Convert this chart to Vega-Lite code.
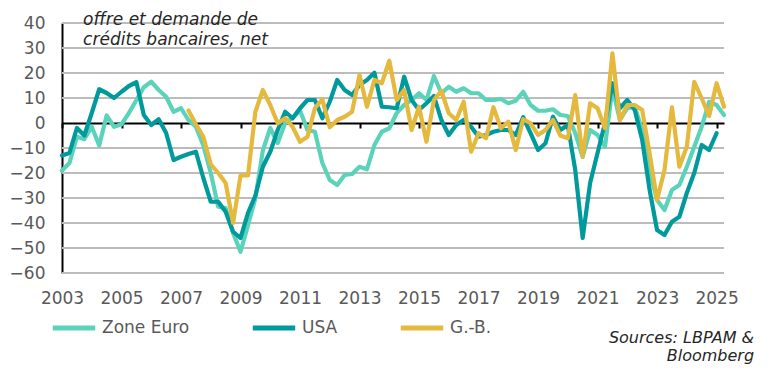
{
  "$schema": "https://vega.github.io/schema/vega-lite/v6.json",
  "width": 662,
  "height": 250,
  "autosize": {"type": "none"},
  "padding": {"left": 62, "top": 23, "right": 46, "bottom": 98},
  "background": "white",
  "config": {"view": {"stroke": null}, "font": "DejaVu Sans"},
  "encoding": {
    "x": {
      "field": "t", "type": "quantitative",
      "scale": {"domain": [2003, 2025.25], "nice": false, "zero": false},
      "axis": {
        "values": [2003, 2005, 2007, 2009, 2011, 2013, 2015, 2017, 2019, 2021, 2023, 2025],
        "format": "d", "title": null, "grid": false, "offset": -150,
        "domainColor": "black", "domainWidth": 2,
        "tickColor": "black", "tickWidth": 2, "tickSize": 5,
        "labelPadding": 162, "labelFontSize": 17, "labelColor": "#595959",
        "labelFont": "DejaVu Sans", "labelFlush": false, "labelOverlap": false
      }
    },
    "y": {
      "field": "v", "type": "quantitative",
      "scale": {"domain": [-60, 40], "nice": false},
      "axis": {
        "values": [-60, -50, -40, -30, -20, -10, 0, 10, 20, 30, 40],
        "title": null, "ticks": false, "grid": false,
        "domainColor": "black", "domainWidth": 2,
        "labelPadding": 17, "labelFontSize": 17, "labelColor": "#595959", "labelFont": "DejaVu Sans",
        "labelOverlap": false
      }
    }
  },
  "layer": [
    {
      "data": {"values": [
        {"v": -60, "t": 2003, "t2": 2025.25}, {"v": -50, "t": 2003, "t2": 2025.25},
        {"v": -40, "t": 2003, "t2": 2025.25}, {"v": -30, "t": 2003, "t2": 2025.25},
        {"v": -20, "t": 2003, "t2": 2025.25}, {"v": -10, "t": 2003, "t2": 2025.25},
        {"v": 10, "t": 2003, "t2": 2025.25}, {"v": 20, "t": 2003, "t2": 2025.25},
        {"v": 30, "t": 2003, "t2": 2025.25}, {"v": 40, "t": 2003, "t2": 2025.25}
      ]},
      "mark": {"type": "rule", "color": "#bcbcbc", "stroke": "#bcbcbc", "strokeWidth": 2, "opacity": 1, "strokeOpacity": 1},
      "encoding": {"x2": {"field": "t2"}}
    },
    {
      "data": {"values": [
        {"t":2003.00,"ze":-19,"us":-13},
        {"t":2003.25,"ze":-16,"us":-12},
        {"t":2003.50,"ze":-5.5,"us":-2},
        {"t":2003.75,"ze":-6.5,"us":-5},
        {"t":2004.00,"ze":-1.5,"us":4},
        {"t":2004.25,"ze":-9,"us":13.5},
        {"t":2004.50,"ze":3,"us":12},
        {"t":2004.75,"ze":-1.5,"us":10},
        {"t":2005.00,"ze":-0.5,"us":12.5},
        {"t":2005.25,"ze":4,"us":14.8},
        {"t":2005.50,"ze":9.2,"us":16.3},
        {"t":2005.75,"ze":14.3,"us":3.2},
        {"t":2006.00,"ze":16.5,"us":-0.8},
        {"t":2006.25,"ze":13.2,"us":1.5},
        {"t":2006.50,"ze":10.5,"us":-4},
        {"t":2006.75,"ze":4.5,"us":-14.8},
        {"t":2007.00,"ze":5.9,"us":-13.5},
        {"t":2007.25,"ze":1.2,"us":-12.4,"gb":5},
        {"t":2007.50,"ze":-1.5,"us":-11.5,"gb":-0.5},
        {"t":2007.75,"ze":-9,"us":-22,"gb":-5.5},
        {"t":2008.00,"ze":-20,"us":-31.5,"gb":-16.5},
        {"t":2008.25,"ze":-33.5,"us":-31.5,"gb":-20},
        {"t":2008.50,"ze":-34,"us":-35.5,"gb":-24},
        {"t":2008.75,"ze":-44,"us":-43.5,"gb":-40},
        {"t":2009.00,"ze":-51.5,"us":-46,"gb":-21},
        {"t":2009.25,"ze":-41,"us":-36,"gb":-21},
        {"t":2009.50,"ze":-30,"us":-29,"gb":4.5},
        {"t":2009.75,"ze":-11,"us":-17.5,"gb":13.2},
        {"t":2010.00,"ze":-2,"us":-11.5,"gb":7.2},
        {"t":2010.25,"ze":-8,"us":-2.8,"gb":-0.1},
        {"t":2010.50,"ze":0,"us":4.5,"gb":1.9},
        {"t":2010.75,"ze":2,"us":1.9,"gb":-1.5},
        {"t":2011.00,"ze":5,"us":5.9,"gb":-7.5},
        {"t":2011.25,"ze":-2.8,"us":9.2,"gb":-5.5},
        {"t":2011.50,"ze":-3.5,"us":9.2,"gb":5.9},
        {"t":2011.75,"ze":-16,"us":1.9,"gb":9.5},
        {"t":2012.00,"ze":-22.8,"us":8.5,"gb":-1.7},
        {"t":2012.25,"ze":-24.8,"us":17.2,"gb":1.2},
        {"t":2012.50,"ze":-20.8,"us":13.2,"gb":2.5},
        {"t":2012.75,"ze":-20.4,"us":11.2,"gb":4.5},
        {"t":2013.00,"ze":-17.5,"us":15.2,"gb":19.2},
        {"t":2013.25,"ze":-18.5,"us":17.2,"gb":6.5},
        {"t":2013.50,"ze":-8.8,"us":20.1,"gb":17.2},
        {"t":2013.75,"ze":-3.5,"us":6.5,"gb":15.9},
        {"t":2014.00,"ze":-2.1,"us":6.3,"gb":24.9},
        {"t":2014.25,"ze":4,"us":5.9,"gb":9.2},
        {"t":2014.50,"ze":7.2,"us":18.5,"gb":13.2},
        {"t":2014.75,"ze":9.2,"us":9.2,"gb":-2.8},
        {"t":2015.00,"ze":11.9,"us":5.2,"gb":6.5},
        {"t":2015.25,"ze":9.2,"us":7.9,"gb":-7.5},
        {"t":2015.50,"ze":18.8,"us":10.8,"gb":9.2},
        {"t":2015.75,"ze":11.9,"us":1.2,"gb":12.9},
        {"t":2016.00,"ze":14.5,"us":-4.8,"gb":3.9},
        {"t":2016.25,"ze":12.5,"us":-0.8,"gb":1.2},
        {"t":2016.50,"ze":13.9,"us":1.2,"gb":8.5},
        {"t":2016.75,"ze":11.9,"us":-1.5,"gb":-11.5},
        {"t":2017.00,"ze":11.9,"us":-5.5,"gb":-4.1},
        {"t":2017.25,"ze":9.2,"us":-4.8,"gb":-6.1},
        {"t":2017.50,"ze":9.2,"us":-3.5,"gb":6.3},
        {"t":2017.75,"ze":9.6,"us":-2.8,"gb":-2.1},
        {"t":2018.00,"ze":7.9,"us":-2.8,"gb":0.5},
        {"t":2018.25,"ze":8.9,"us":-4.8,"gb":-10.8},
        {"t":2018.50,"ze":12.5,"us":2.3,"gb":1.5},
        {"t":2018.75,"ze":7.2,"us":-4.1,"gb":-0.1},
        {"t":2019.00,"ze":4.9,"us":-10.8,"gb":-4.8},
        {"t":2019.25,"ze":4.9,"us":-8.1,"gb":-2.8},
        {"t":2019.50,"ze":5.5,"us":2.5,"gb":1.2},
        {"t":2019.75,"ze":3.2,"us":-2.8,"gb":-5},
        {"t":2020.00,"ze":2.8,"us":-0.8,"gb":-6.1},
        {"t":2020.25,"ze":-4,"us":-18.8,"gb":11.2},
        {"t":2020.50,"ze":-13.5,"us":-46,"gb":-13.5},
        {"t":2020.75,"ze":-2.8,"us":-24,"gb":7.9},
        {"t":2021.00,"ze":-4.8,"us":-12,"gb":5.9},
        {"t":2021.25,"ze":-9.5,"us":0,"gb":-2.1},
        {"t":2021.50,"ze":14,"us":15.9,"gb":27.9},
        {"t":2021.75,"ze":1.2,"us":5.9,"gb":1.2},
        {"t":2022.00,"ze":5.9,"us":9.2,"gb":7.2},
        {"t":2022.25,"ze":6.5,"us":5.2,"gb":7.2},
        {"t":2022.50,"ze":-3,"us":-6.8,"gb":5.2},
        {"t":2022.75,"ze":-19,"us":-26.8,"gb":-12.1},
        {"t":2023.00,"ze":-30.8,"us":-42.8,"gb":-30.8},
        {"t":2023.25,"ze":-34.8,"us":-44.8,"gb":-18.8},
        {"t":2023.50,"ze":-26.8,"us":-39.5,"gb":6.3},
        {"t":2023.75,"ze":-24.8,"us":-37.5,"gb":-17.5},
        {"t":2024.00,"ze":-17.5,"us":-28,"gb":-9.5},
        {"t":2024.25,"ze":-9.5,"us":-20,"gb":16.5},
        {"t":2024.50,"ze":-1.5,"us":-8.8,"gb":9.9},
        {"t":2024.75,"ze":8.5,"us":-10.8,"gb":2.8},
        {"t":2025.00,"ze":7.2,"us":-4.1,"gb":15.9},
        {"t":2025.25,"ze":3.2,"gb":6.5}
      ]},
      "transform": [
        {"fold": ["ze", "us", "gb"], "as": ["s", "v"]},
        {"filter": "isValid(datum.v)"}
      ],
      "mark": {"type": "line", "strokeWidth": 4.2, "strokeJoin": "round", "strokeCap": "round"},
      "encoding": {
        "color": {
          "field": "s", "type": "nominal",
          "scale": {"domain": ["ze", "us", "gb"], "range": ["#5AD3BA", "#00999C", "#E4B93D"]},
          "legend": {
            "orient": "none", "legendX": -12, "legendY": 281, "direction": "horizontal",
            "title": null, "symbolType": "stroke", "symbolStrokeWidth": 5, "symbolSize": 1800,
            "labelFontSize": 17, "labelColor": "#595959", "labelFont": "DejaVu Sans",
            "columnPadding": 52, "labelOffset": 4,
            "labelExpr": "datum.value == 'ze' ? 'Zone Euro' : datum.value == 'us' ? 'USA' : 'G.-B.'"
          }
        }
      }
    },
    {
      "data": {"values": [
        {"txt": "offre et demande de", "t": 2003.71, "v": 39.2},
        {"txt": "crédits bancaires, net", "t": 2003.71, "v": 31.2}
      ]},
      "mark": {"type": "text", "align": "left", "baseline": "alphabetic", "font": "DejaVu Sans", "fontStyle": "italic", "fontSize": 17, "color": "#262626"},
      "encoding": {"text": {"field": "txt"}}
    },
    {
      "data": {"values": [
        {"txt": "Sources: LBPAM &", "t": 2026.26, "v": -88},
        {"txt": "Bloomberg", "t": 2026.26, "v": -95}
      ]},
      "mark": {"type": "text", "align": "right", "baseline": "alphabetic", "font": "DejaVu Sans", "fontStyle": "italic", "fontSize": 16, "color": "#262626"},
      "encoding": {"text": {"field": "txt"}}
    }
  ]
}
